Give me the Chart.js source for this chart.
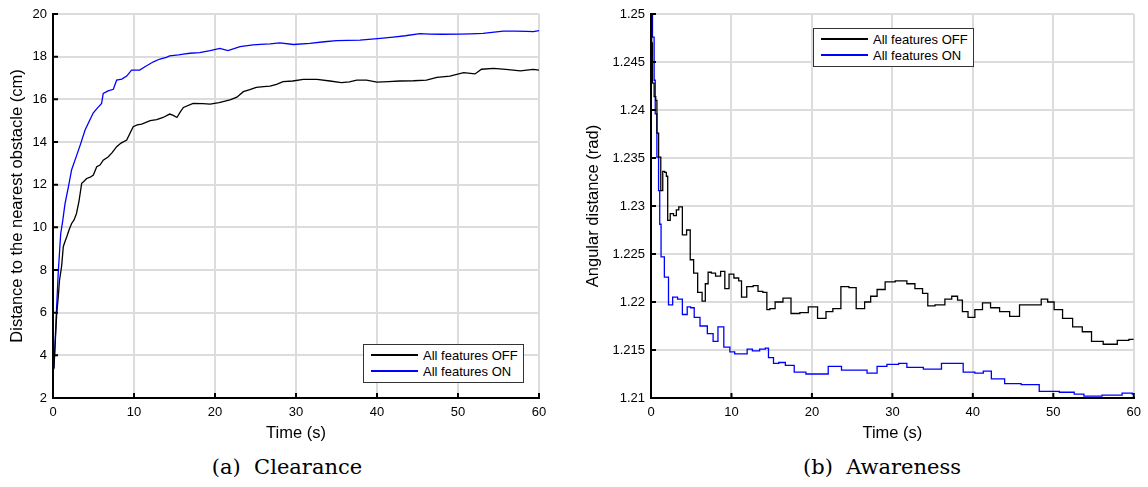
<!DOCTYPE html>
<html>
<head>
<meta charset="utf-8">
<script src="https://cdn.jsdelivr.net/npm/chart.js@4.4.0/dist/chart.umd.min.js"></script>
<style>
  body { margin: 0; background: #fff; width: 1148px; height: 487px; position: relative; overflow: hidden; }
  canvas { position: absolute; top: 0; }
  .lg { position: absolute; width: 159px; height: 37px; border: 1px solid #333; background: #fff;
        font: 13px "Liberation Sans", Arial, sans-serif; color: #000; padding-top: 2px; box-sizing: content-box; height: 35px; }
  .row { display: flex; align-items: center; height: 16px; white-space: nowrap; }
  .sw { display: inline-block; width: 47px; height: 2px; margin-left: 7px; margin-right: 5px; }
  .cap { position: absolute; top: 455px; width: 574px; text-align: center; white-space: pre;
         font: 21px "DejaVu Serif", serif; color: #000; }
</style>
</head>
<body>
<canvas id="c_clear" width="574" height="445" style="left:0px"></canvas>
<canvas id="c_aware" width="574" height="445" style="left:574px"></canvas>

<div class="lg" style="left:363px;top:344px">
  <div class="row"><span class="sw" style="background:#000"></span>All features OFF</div>
  <div class="row"><span class="sw" style="background:#00f"></span>All features ON</div>
</div>
<div class="lg" style="left:813px;top:28px">
  <div class="row"><span class="sw" style="background:#000"></span>All features OFF</div>
  <div class="row"><span class="sw" style="background:#00f"></span>All features ON</div>
</div>

<div class="cap" style="left:0px">(a)  Clearance</div>
<div class="cap" style="left:595px">(b)  Awareness</div>

<script>
// (a) clearance, cm
let clearOffTime = [0.1, 0.25, 0.45, 0.65, 0.8, 1.07, 1.27, 1.45, 1.69, 2.0, 2.3, 2.6, 2.9, 3.2, 3.54, 3.8, 4.15, 4.6, 4.98, 5.4, 5.8, 6.2, 6.8, 7.3, 7.86, 8.4, 9.1, 9.9, 10.4, 10.95, 12.0, 12.8, 13.6, 14.4, 14.85, 15.3, 15.7, 16.1, 17.3, 18.5, 19.4, 20.5, 21.85, 22.7, 23.5, 24.3, 25.1, 26.0, 26.8, 27.6, 28.4, 29.6, 30.9, 32.6, 34.2, 35.6, 36.6, 37.5, 38.7, 40.0, 41.4, 42.8, 44.5, 46.1, 47.4, 49.0, 50.7, 52.1, 52.9, 54.4, 55.9, 57.7, 59.3, 60]
let clearOffDist = [3.35, 4.4, 5.9, 6.74, 7.5, 8.2, 9.09, 9.3, 9.55, 9.9, 10.18, 10.35, 10.65, 11.2, 12.06, 12.15, 12.29, 12.35, 12.45, 12.84, 12.92, 13.15, 13.3, 13.5, 13.78, 13.95, 14.09, 14.72, 14.8, 14.84, 15.0, 15.05, 15.15, 15.31, 15.25, 15.15, 15.4, 15.62, 15.81, 15.8, 15.78, 15.85, 15.97, 16.1, 16.36, 16.45, 16.56, 16.6, 16.62, 16.7, 16.83, 16.86, 16.94, 16.94, 16.86, 16.78, 16.82, 16.9, 16.9, 16.81, 16.83, 16.86, 16.87, 16.9, 17.03, 17.09, 17.25, 17.19, 17.41, 17.45, 17.4, 17.33, 17.4, 17.37]
let clearOnTime = [0.12, 0.37, 0.65, 0.95, 1.2, 1.48, 1.9, 2.3, 2.9, 3.4, 3.95, 4.5, 4.98, 5.5, 6.0, 6.2, 6.8, 7.45, 7.86, 8.5, 9.1, 9.7, 10.7, 11.35, 12.4, 13.2, 14.0, 14.4, 15.5, 16.1, 16.9, 18.1, 19.4, 20.6, 21.6, 23.1, 24.7, 25.6, 26.8, 28.0, 29.7, 31.7, 33.5, 35.0, 36.4, 37.9, 40.4, 42.0, 43.5, 45.3, 46.5, 48.0, 50.2, 51.5, 53.1, 54.2, 55.6, 57.0, 58.5, 59.3, 60]
let clearOnDist = [3.4, 5.6, 7.9, 9.7, 10.3, 11.1, 11.9, 12.7, 13.35, 13.9, 14.55, 15.0, 15.37, 15.6, 15.81, 16.28, 16.4, 16.47, 16.9, 16.95, 17.09, 17.37, 17.37, 17.53, 17.76, 17.89, 17.97, 18.04, 18.08, 18.12, 18.16, 18.19, 18.28, 18.39, 18.28, 18.47, 18.55, 18.58, 18.6, 18.65, 18.57, 18.62, 18.7, 18.75, 18.76, 18.78, 18.86, 18.92, 18.98, 19.08, 19.06, 19.05, 19.06, 19.07, 19.09, 19.14, 19.2, 19.2, 19.19, 19.17, 19.22]
let clearTimeTicks = [0, 10, 20, 30, 40, 50, 60]
let clearDistTicks = [2, 4, 6, 8, 10, 12, 14, 16, 18, 20]

// (b) awareness, rad
let awareOffTime = [0.05, 0.12, 0.25, 0.53, 0.65, 0.82, 1.07, 1.36, 1.56, 1.85, 1.97, 2.18, 2.6, 3.0, 3.3, 3.6, 4.2, 4.65, 5.1, 5.5, 6.1, 6.6, 6.9, 7.3, 7.7, 8.35, 8.95, 9.4, 10.0, 10.6, 11.2, 11.3, 12.5, 12.9, 13.7, 14.1, 14.7, 14.85, 16.0, 16.8, 18.0, 19.0, 20.1, 21.3, 22.2, 23.0, 24.2, 25.0, 26.0, 27.1, 27.5, 28.7, 29.5, 31.2, 32.4, 33.2, 34.3, 34.5, 36.1, 36.95, 37.8, 38.4, 39.0, 39.8, 40.7, 41.7, 42.7, 43.95, 45.2, 46.4, 48.1, 48.9, 49.7, 50.5, 51.8, 53.0, 54.2, 55.3, 57.1, 58.8, 60]
let awareOffDist = [1.2500, 1.2470, 1.2428, 1.2414, 1.2410, 1.2376, 1.2351, 1.2316, 1.2336, 1.2335, 1.2331, 1.2285, 1.2292, 1.2290, 1.2296, 1.2299, 1.2270, 1.2275, 1.2244, 1.2230, 1.2210, 1.2201, 1.2219, 1.2231, 1.2230, 1.2227, 1.2232, 1.2214, 1.2229, 1.2225, 1.2222, 1.2205, 1.2216, 1.2217, 1.2211, 1.2210, 1.2192, 1.2193, 1.2200, 1.2204, 1.2188, 1.2189, 1.2195, 1.2183, 1.2190, 1.2193, 1.2216, 1.2215, 1.2193, 1.2200, 1.2206, 1.2213, 1.2221, 1.2222, 1.2219, 1.2214, 1.2209, 1.2196, 1.2197, 1.2203, 1.2206, 1.2202, 1.2190, 1.2184, 1.2192, 1.2199, 1.2194, 1.2190, 1.2185, 1.2197, 1.2197, 1.2203, 1.2200, 1.2192, 1.2183, 1.2174, 1.2169, 1.2159, 1.2156, 1.2160, 1.2161]
let awareOnTime = [0.04, 0.33, 0.45, 0.6, 0.86, 1.02, 1.15, 1.35, 1.97, 2.38, 3.0, 3.6, 4.2, 4.8, 5.06, 5.68, 6.5, 7.5, 7.94, 8.7, 9.4, 10.2, 10.6, 11.6, 12.3, 12.9, 14.1, 14.3, 14.9, 15.55, 16.2, 17.2, 18.4, 20.1, 21.3, 22.75, 24.6, 26.2, 27.5, 28.7, 29.95, 31.6, 32.0, 35.7, 36.5, 38.2, 39.4, 41.1, 41.5, 43.1, 44.8, 47.2, 49.3, 52.2, 53.0, 54.6, 57.5, 59.6, 60]
let awareOnDist = [1.2500, 1.2476, 1.2431, 1.2396, 1.2351, 1.2316, 1.2281, 1.2247, 1.2226, 1.2197, 1.2205, 1.2203, 1.2187, 1.2195, 1.2194, 1.2184, 1.2175, 1.2167, 1.2159, 1.2174, 1.2153, 1.2148, 1.2146, 1.2146, 1.2151, 1.2149, 1.2151, 1.2152, 1.2142, 1.2136, 1.2137, 1.2134, 1.2127, 1.2125, 1.2125, 1.2133, 1.2129, 1.2129, 1.2126, 1.2133, 1.2135, 1.2136, 1.2132, 1.2130, 1.2136, 1.2136, 1.2127, 1.2126, 1.2128, 1.2120, 1.2115, 1.2114, 1.2107, 1.2106, 1.2104, 1.2102, 1.2103, 1.2105, 1.2104]
let awareTimeTicks = [0, 10, 20, 30, 40, 50, 60]
let awareDistTicks = [1.21, 1.215, 1.22, 1.225, 1.23, 1.235, 1.24, 1.245, 1.25]

let seriesNames = ['All features OFF', 'All features ON']
let seriesColors = ['#000000', '#0000ff']

Chart.defaults.font.family = '"Liberation Sans", Arial, sans-serif'
Chart.defaults.color = '#000'

function pts(xs, ys) {
  let out = []
  for (let i = 0; i < xs.length; i++) out.push({x: xs[i], y: ys[i]})
  return out
}

// small ticks pointing into the plot
let inTicks = {
  id: 'inTicks',
  afterDraw(chart) {
    let ctx = chart.ctx, a = chart.chartArea, x = chart.scales.x, y = chart.scales.y
    ctx.save()
    ctx.strokeStyle = '#000'
    ctx.lineWidth = 2
    ctx.beginPath()
    x.ticks.forEach(t => { let p = x.getPixelForValue(t.value); ctx.moveTo(p, a.bottom); ctx.lineTo(p, a.bottom - 5) })
    y.ticks.forEach(t => { let p = y.getPixelForValue(t.value); ctx.moveTo(a.left, p); ctx.lineTo(a.left + 5, p) })
    ctx.stroke()
    ctx.restore()
  }
}

function makeChart(id, data, xTicks, yTicks, yTitle, leftW, rightPad, titlePad, stepped) {
  return new Chart(document.getElementById(id), {
    type: 'line',
    data: {
      datasets: data.map((d, i) => ({
        label: seriesNames[i],
        data: d,
        borderColor: seriesColors[i],
        borderWidth: 1.3,
        pointRadius: 0,
        tension: 0,
        stepped: stepped
      }))
    },
    options: {
      responsive: false,
      animation: false,
      devicePixelRatio: 1,
      layout: { padding: { top: 14, right: rightPad, left: 0, bottom: 0 } },
      plugins: { legend: { display: false }, tooltip: { enabled: false } },
      scales: {
        x: {
          type: 'linear',
          min: xTicks[0], max: xTicks[xTicks.length - 1],
          afterBuildTicks: s => { s.ticks = xTicks.map(v => ({value: v})) },
          afterFit: s => { s.height = 47 },
          grid: { color: '#dcdcdc', lineWidth: 2, drawTicks: false },
          border: { color: '#000', width: 2 },
          ticks: { font: { size: 13 }, padding: 7, maxRotation: 0, color: '#000' },
          title: { display: true, text: 'Time (s)', font: { size: 16.5 }, padding: { top: 0, bottom: 2 }, color: '#000' }
        },
        y: {
          type: 'linear',
          min: yTicks[0], max: yTicks[yTicks.length - 1],
          afterBuildTicks: s => { s.ticks = yTicks.map(v => ({value: v})) },
          afterFit: s => { s.width = leftW },
          grid: { color: '#dcdcdc', lineWidth: 2, drawTicks: false },
          border: { color: '#000', width: 2 },
          ticks: { font: { size: 13 }, padding: 6, color: '#000', callback: v => String(+v.toFixed(3)) },
          title: { display: true, text: yTitle, font: { size: 16.5 }, padding: { top: titlePad, bottom: 0 }, color: '#000' }
        }
      }
    },
    plugins: [inTicks]
  })
}

makeChart('c_clear', [pts(clearOffTime, clearOffDist), pts(clearOnTime, clearOnDist)],
  clearTimeTicks, clearDistTicks, 'Distance to the nearest obstacle (cm)', 53, 35, 7.6, false)

makeChart('c_aware', [pts(awareOffTime, awareOffDist), pts(awareOnTime, awareOnDist)],
  awareTimeTicks, awareDistTicks, 'Angular distance (rad)', 77, 11, 9.6, 'middle')
</script>
</body>
</html>
